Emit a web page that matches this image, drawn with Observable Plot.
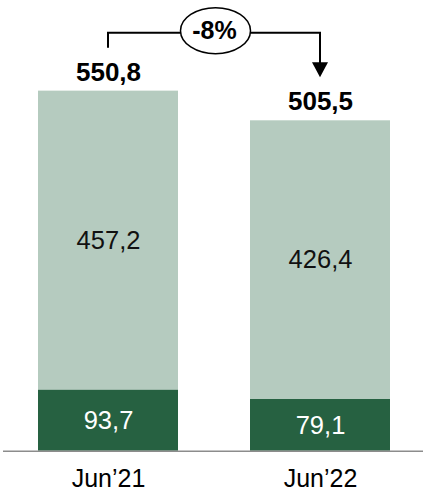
<!DOCTYPE html>
<html><head><meta charset="utf-8">
<script src="https://cdn.jsdelivr.net/npm/d3@7"></script>
<script src="https://cdn.jsdelivr.net/npm/@observablehq/plot@0.6"></script>
<style>body{margin:0;background:#fff;}</style>
</head><body><div id="chart"></div>
<script>
const periods = ["Jun’21", "Jun’22"];
const bottomValues = [93.7, 79.1];
const topValues = [457.2, 426.4];
const totals = [550.8, 505.5];
const changeLabel = "-8%";
const segments = ["bottom", "top"];

const fmt = v => d3.format(".1f")(v).replace(".", ",");
const rows = [];
periods.forEach((p, i) => {
  rows.push({period: p, segment: "bottom", value: bottomValues[i]});
  rows.push({period: p, segment: "top", value: topValues[i]});
});
const totalRows = periods.map((p, i) => ({period: p, total: totals[i]}));

const chart = Plot.plot({
  width: 423,
  height: 492,
  marginLeft: 3,
  marginRight: 0,
  marginTop: 0,
  marginBottom: 41,
  style: {fontFamily: "'Liberation Sans', Arial, sans-serif", color: "#000", background: "#fff"},
  x: {domain: periods, range: [38, 390], paddingInner: 0.34, paddingOuter: 0, label: null},
  y: {domain: [0, d3.max(totals)], range: [450.7, 90.7], axis: null, label: null},
  color: {domain: segments, range: ["#266141", "#b5cbbf"]},
  marks: [
    Plot.barY(rows, {x: "period", y: "value", fill: "segment", order: segments}),
    Plot.ruleY([0], {stroke: "#8c8c8c", strokeWidth: 1.5}),
    Plot.text(rows, Plot.stackY({x: "period", y: "value", order: segments, text: d => fmt(d.value),
      fill: d => d.segment === "bottom" ? "#fff" : "#111", fontSize: 25.5})),
    Plot.text(totalRows, {x: "period", y: "total", text: d => fmt(d.total), dy: -19, fontSize: 26, fontWeight: "bold", fill: "#000"}),
    Plot.axisX({tickSize: 0, tickPadding: 18, fontSize: 25, fill: "#000"})
  ]
});
document.getElementById("chart").append(chart);

// Change annotation, placed through the chart's own scales
(function () {
  const xs = chart.scale("x"), ys = chart.scale("y");
  const cx = periods.map(p => xs.apply(p) + xs.bandwidth / 2);
  const cy = totals.map(t => ys.apply(t));
  const lineY = Math.min(...cy) - 58;
  const g = d3.select(chart).append("g").attr("fill", "none").attr("stroke", "#000").attr("stroke-width", 2);
  g.append("path").attr("d", `M${cx[0]},${cy[0] - 43}V${lineY}H${cx[1]}V${cy[1] - 57}`);
  g.append("path").attr("fill", "#000").attr("stroke", "none")
    .attr("d", `M${cx[1] - 8},${cy[1] - 58}L${cx[1] + 8},${cy[1] - 58}L${cx[1]},${cy[1] - 43}Z`);
  const ex = (cx[0] + cx[1]) / 2 + 1.5, ey = lineY - 2;
  g.append("ellipse").attr("cx", ex).attr("cy", ey).attr("rx", 35).attr("ry", 23)
    .attr("fill", "#fff").attr("stroke-width", 1.5);
  g.append("text").attr("x", ex - 1).attr("y", ey).attr("dy", "0.35em")
    .attr("text-anchor", "middle").attr("fill", "#000").attr("stroke", "none")
    .attr("font-size", 25).attr("font-weight", "bold").text(changeLabel);
})();
</script>
</body></html>
